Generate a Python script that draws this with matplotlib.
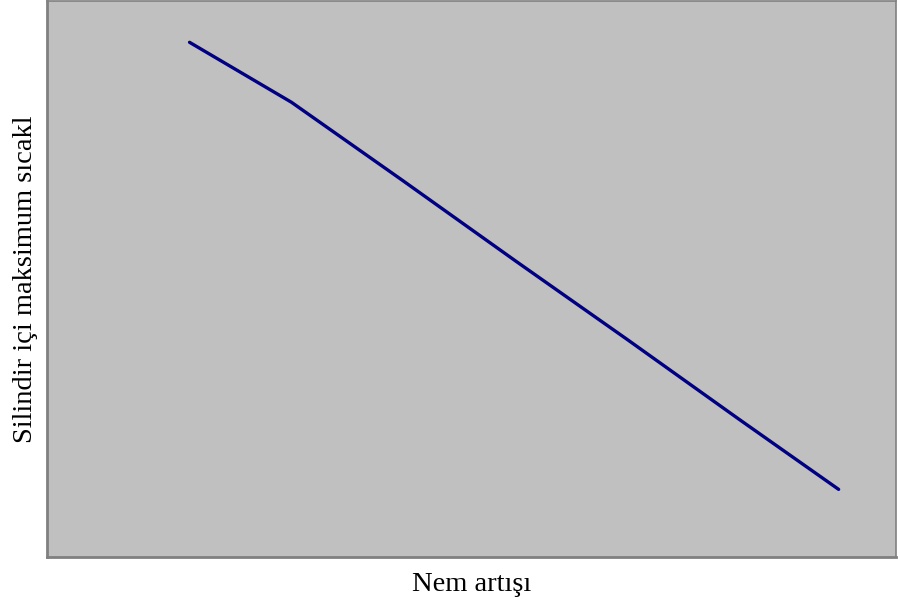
import matplotlib.pyplot as plt

# Nem artisi vs. silindir ici maksimum sicaklik (arbitrary units)
nem_artisi = [1.68, 2.88, 4.19, 5.52, 6.84, 8.15, 9.32]
max_sicaklik = [9.26, 8.18, 6.77, 5.32, 3.90, 2.47, 1.21]

plt.rcParams['font.family'] = ['Liberation Serif', 'DejaVu Serif']

fig = plt.figure(figsize=(9, 6.03), dpi=100)
ax = fig.add_axes([0.052, 0.077, 0.944, 0.921])
ax.set_facecolor('#C0C0C0')

ax.plot(nem_artisi, max_sicaklik, color='#000080', linewidth=2.4,
        solid_capstyle='round', solid_joinstyle='round')

ax.set_xlim(0, 10)
ax.set_ylim(0, 10)
ax.set_xticks([])
ax.set_yticks([])

for side in ['top', 'right', 'left', 'bottom']:
    ax.spines[side].set_color('#808080')
    ax.spines[side].set_linewidth(1.2)
ax.spines['bottom'].set_linewidth(2)
ax.spines['left'].set_linewidth(2)

ax.set_xlabel('Nem artışı', fontsize=20.5, labelpad=11)
ax.set_ylabel('Silindir içi maksimum sıcakl', fontsize=20.5, labelpad=6)

fig.savefig('out.png', dpi=100)
